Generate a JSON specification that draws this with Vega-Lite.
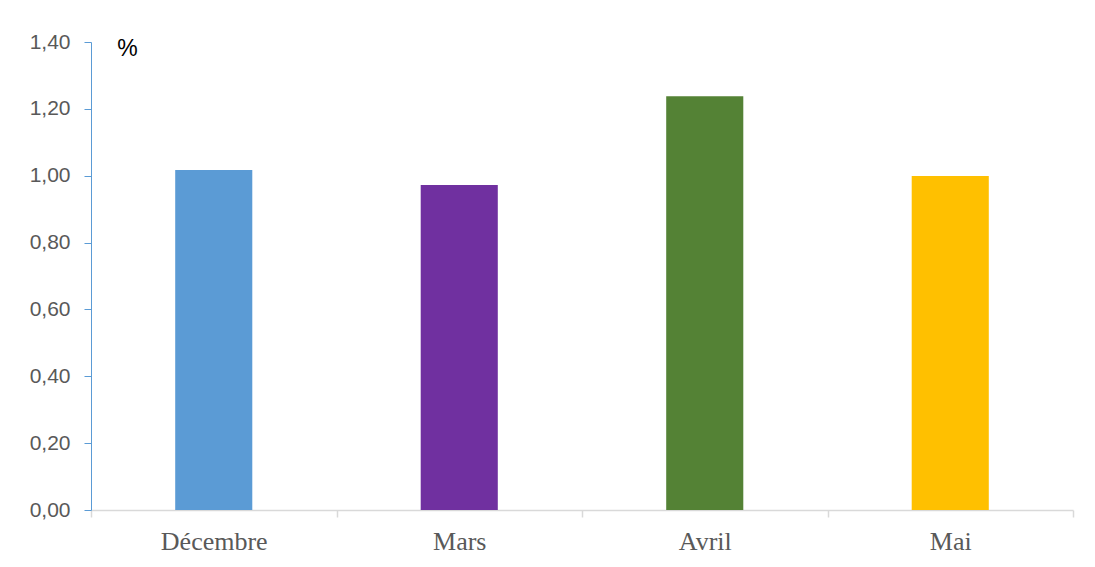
{
  "$schema": "https://vega.github.io/schema/vega-lite/v6.json",
  "width": 982,
  "height": 468,
  "autosize": {"type": "none"},
  "padding": {"left": 91, "top": 42, "right": 22, "bottom": 57},
  "background": "white",
  "config": {"view": {"stroke": null}},
  "data": {
    "values": [
      {"mois": "Décembre", "valeur": 1.017},
      {"mois": "Mars", "valeur": 0.972},
      {"mois": "Avril", "valeur": 1.238},
      {"mois": "Mai", "valeur": 0.999}
    ]
  },
  "mark": {"type": "bar", "width": {"band": 0.314}},
  "encoding": {
    "x": {
      "field": "mois",
      "type": "nominal",
      "sort": ["Décembre", "Mars", "Avril", "Mai"],
      "scale": {"paddingInner": 0, "paddingOuter": 0},
      "axis": {
        "title": null,
        "labelAngle": 0,
        "labelFont": "Liberation Serif",
        "labelFontSize": 26,
        "labelColor": "#595959",
        "labelPadding": 11,
        "domainColor": "#D9D9D9",
        "domainWidth": 1.5,
        "tickColor": "#D9D9D9",
        "tickWidth": 1.5,
        "tickSize": 7,
        "tickBand": "extent"
      }
    },
    "y": {
      "field": "valeur",
      "type": "quantitative",
      "scale": {"domain": [0, 1.4], "nice": false},
      "axis": {
        "values": [0, 0.2, 0.4, 0.6, 0.8, 1.0, 1.2, 1.4],
        "labelExpr": "replace(format(datum.value, '.2f'), '.', ',')",
        "labelFont": "Liberation Sans",
        "labelFontSize": 21,
        "labelColor": "#595959",
        "labelPadding": 14,
        "domainColor": "#5B9BD5",
        "domainWidth": 1,
        "tickColor": "#5B9BD5",
        "tickSize": 7,
        "grid": false,
        "title": "%",
        "titleAngle": 0,
        "titleFont": "Liberation Sans",
        "titleFontSize": 23,
        "titleFontWeight": "normal",
        "titleColor": "black",
        "titleAlign": "center",
        "titleBaseline": "middle",
        "titleX": 36,
        "titleY": 6
      }
    },
    "color": {
      "field": "mois",
      "type": "nominal",
      "scale": {
        "domain": ["Décembre", "Mars", "Avril", "Mai"],
        "range": ["#5B9BD5", "#7030A0", "#548235", "#FFC000"]
      },
      "legend": null
    }
  }
}
